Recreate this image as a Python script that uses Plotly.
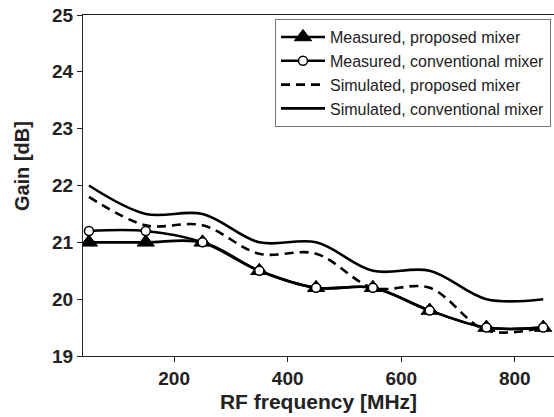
import plotly.graph_objects as go

freq = [50, 150, 250, 350, 450, 550, 650, 750, 850]
meas_proposed = [21.0, 21.0, 21.0, 20.5, 20.2, 20.2, 19.8, 19.5, 19.5]
meas_conventional = [21.2, 21.2, 21.0, 20.5, 20.2, 20.2, 19.8, 19.5, 19.5]
sim_proposed = [21.8, 21.3, 21.3, 20.8, 20.8, 20.2, 20.2, 19.45, 19.5]
sim_conventional = [22.0, 21.5, 21.5, 21.0, 21.0, 20.5, 20.5, 20.0, 20.0]

x_ticks = [200, 400, 600, 800]
y_ticks = [19, 20, 21, 22, 23, 24, 25]

FONT = "'Liberation Sans', Arial, Helvetica, sans-serif"
INK = "#222222"

fig = go.Figure()

fig.add_trace(go.Scatter(
    x=freq, y=sim_conventional, mode="lines", name="Simulated, conventional mixer",
    line=dict(color="black", width=2.6, shape="spline", smoothing=1.0), legendrank=4))
fig.add_trace(go.Scatter(
    x=freq, y=sim_proposed, mode="lines", name="Simulated, proposed mixer",
    line=dict(color="black", width=2.6, dash="9px,6px", shape="spline", smoothing=1.0), legendrank=3))
fig.add_trace(go.Scatter(
    x=freq, y=meas_proposed, mode="lines+markers", name="Measured, proposed mixer",
    line=dict(color="black", width=2.6, shape="spline", smoothing=1.0),
    marker=dict(symbol="triangle-up", size=15, color="black", line=dict(color="black", width=1)),
    legendrank=1))
fig.add_trace(go.Scatter(
    x=freq, y=meas_conventional, mode="lines+markers", name="Measured, conventional mixer",
    line=dict(color="black", width=2.6, shape="spline", smoothing=1.0),
    marker=dict(symbol="circle", size=9, color="white", line=dict(color="black", width=1.5)),
    legendrank=2))

fig.add_annotation(
    text="<b>Gain [dB]</b>", textangle=-90, showarrow=False,
    xref="paper", yref="paper", x=-0.128, y=0.556, xanchor="center", yanchor="middle",
    font=dict(family=FONT, size=20, color=INK))

fig.update_layout(
    width=554, height=417,
    margin=dict(l=83, r=0, t=15, b=61),
    paper_bgcolor="white", plot_bgcolor="white",
    font=dict(family=FONT, color=INK),
    showlegend=True,
    legend=dict(
        x=0.9936, y=0.988, xanchor="right", yanchor="top",
        bgcolor="white", bordercolor="#777777", borderwidth=1,
        font=dict(family=FONT, size=16, color=INK),
        itemwidth=44, tracegroupgap=0,
    ),
    xaxis=dict(
        range=[39.5, 869], tickvals=x_ticks, ticktext=[str(v) for v in x_ticks],
        showgrid=False, zeroline=False, showline=True, linecolor=INK, linewidth=1.2,
        mirror=True, ticks="outside", ticklen=5, tickcolor=INK,
        tickfont=dict(family=FONT, size=19, color=INK, weight="bold"),
        title=dict(text="<b>RF frequency [MHz]</b>", font=dict(family=FONT, size=21, color=INK), standoff=6),
    ),
    yaxis=dict(
        range=[19, 25], tickvals=y_ticks, ticktext=[str(v) for v in y_ticks],
        showgrid=False, zeroline=False, showline=True, linecolor=INK, linewidth=1.2,
        ticks="outside", ticklen=5, tickcolor=INK,
        tickfont=dict(family=FONT, size=19, color=INK, weight="bold"),
    ),
)

fig.write_html("out.html")
